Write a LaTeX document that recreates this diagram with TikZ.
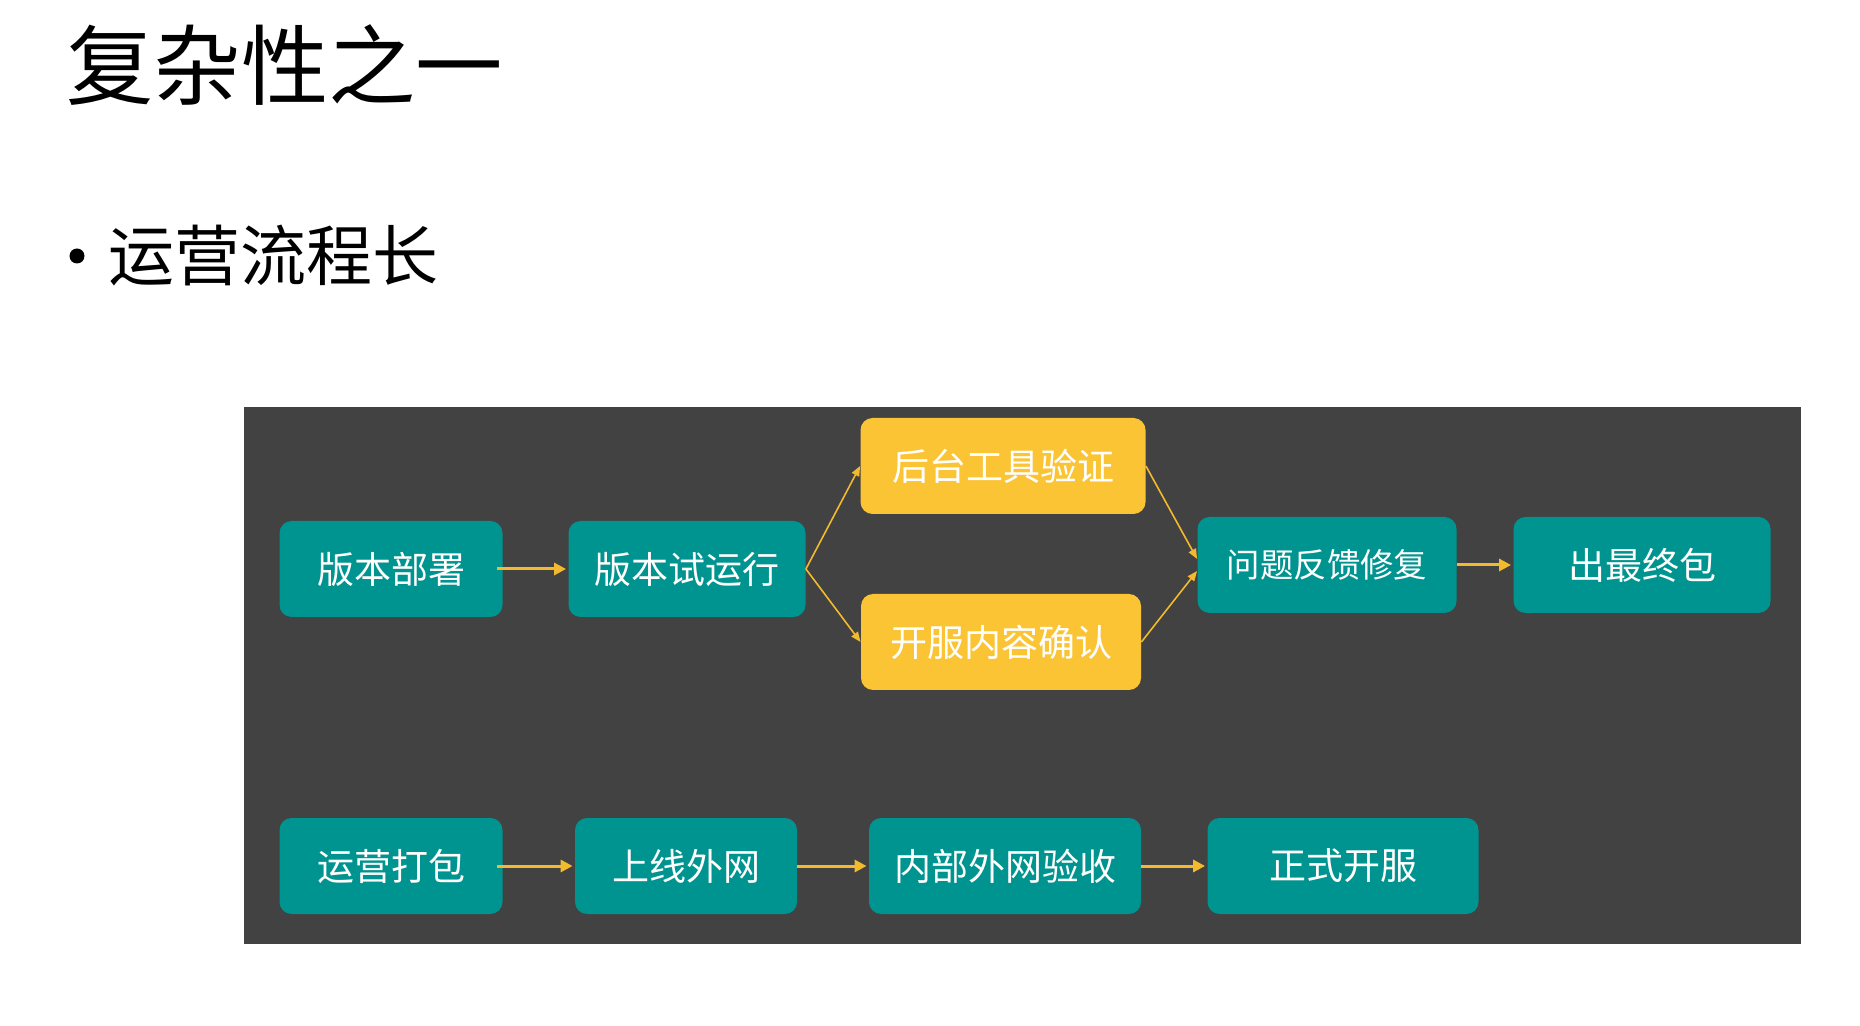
\documentclass[tikz,border=0pt]{standalone}
\usepackage{fontspec}
\setmainfont{Noto Sans CJK SC}
\usetikzlibrary{arrows.meta}

\definecolor{panelgray}{HTML}{424242}
\definecolor{stepteal}{HTML}{009490}
\definecolor{stepgold}{HTML}{FBC434}
\definecolor{flowgold}{HTML}{F2BA2C}

\tikzstyle{tealbox} = [fill=stepteal, rounded corners=6pt, text=white, minimum height=48pt, inner sep=0pt, font=\fontsize{18.5}{20}\selectfont]
\tikzstyle{goldbox} = [tealbox, fill=stepgold]
\tikzstyle{flow} = [draw=flowgold, line width=1.5pt, -{Triangle[length=6pt,width=6pt]}, shorten >=1pt]
\tikzstyle{branch} = [draw=flowgold, line width=0.8pt, -{Triangle[length=5pt,width=4pt]}]

\begin{document}
\begin{tikzpicture}[x=0.5pt,y=-0.5pt]
\useasboundingbox[fill=white] (0,0) rectangle (1860,1026);

% heading and bullet
\node[anchor=west, inner sep=0pt, font=\fontsize{43.7}{45}\selectfont] (title) at (66,65) {复杂性之一};
\node[circle, fill=black, inner sep=0pt, minimum size=7.5pt] (dot) at (77,256) {};
\node[anchor=west, inner sep=0pt, font=\fontsize{33}{35}\selectfont] (point) at (108,256) {运营流程长};

% dark panel
\fill[panelgray] (244,407) rectangle (1801,944);

% upper flow
\node[tealbox, minimum width=111.5pt] (deploy) at (391,569) {版本部署};
\node[tealbox, minimum width=118.5pt] (trial) at (687,569) {版本试运行};
\node[goldbox, minimum width=142.5pt] (tools) at (1003,466) {后台工具验证};
\node[goldbox, minimum width=140pt] (content) at (1001,642) {开服内容确认};
\node[tealbox, minimum width=129.5pt, font=\fontsize{16.7}{18}\selectfont] (fix) at (1327,565) {问题反馈修复};
\node[tealbox, minimum width=128.5pt] (final) at (1642,565) {出最终包};

% lower flow
\node[tealbox, minimum width=111.5pt] (pack) at (391,866) {运营打包};
\node[tealbox, minimum width=111pt] (online) at (686,866) {上线外网};
\node[tealbox, minimum width=136pt] (accept) at (1005,866) {内部外网验收};
\node[tealbox, minimum width=135.5pt] (launch) at (1343,866) {正式开服};

\draw[flow] ([xshift=-3pt]deploy.east) -- (trial.west);
\draw[branch] (trial.east) -- (tools.west);
\draw[branch] (trial.east) -- (content.west);
\draw[branch] (tools.east) -- ([yshift=3pt]fix.west);
\draw[branch] (content.east) -- ([yshift=-3pt]fix.west);
\draw[flow] (fix.east) -- (final.west);

\draw[flow] ([xshift=-3pt]pack.east) -- (online.west);
\draw[flow] (online.east) -- (accept.west);
\draw[flow] (accept.east) -- (launch.west);
\end{tikzpicture}
\end{document}
